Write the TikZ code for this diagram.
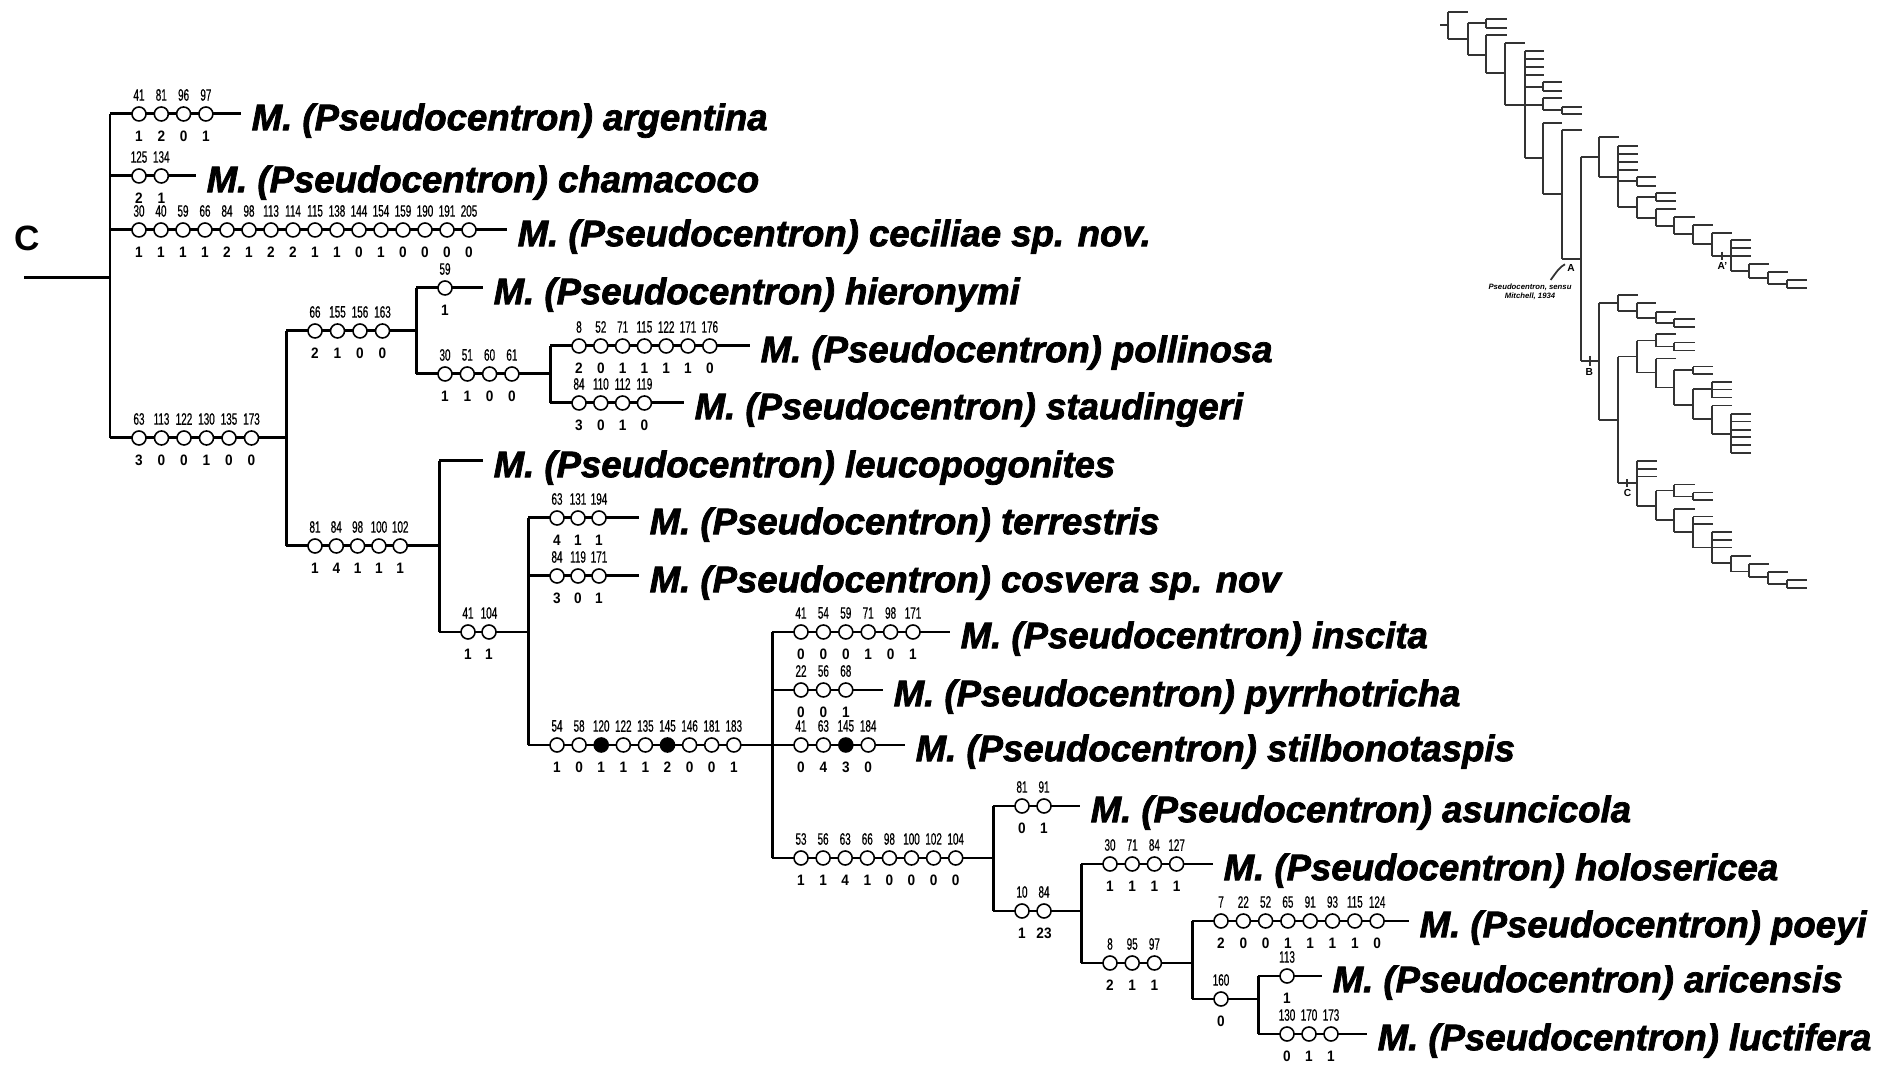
\documentclass[tikz,border=0pt]{standalone}
\usepackage{fontspec}
\setmainfont{Liberation Sans}
\newfontfamily\taxonfont[FakeStretch=0.99,FakeBold=2]{Liberation Sans}
\newfontfamily\charfont[FakeStretch=0.6,FakeBold=0.5]{Liberation Sans}
\newfontfamily\statefont[FakeStretch=0.9]{Liberation Sans}
\usetikzlibrary{calc}

\tikzset{
  branch/.style={line width=0.85pt},
  ring/.style={circle, draw, line width=0.45pt, fill=white, minimum size=0.14cm, inner sep=0pt},
  blob/.style={ring, fill=black},
  charno/.style={font=\charfont\fontsize{4.7}{5.5}\selectfont, inner sep=0pt},
  stateno/.style={font=\statefont\bfseries\fontsize{4.3}{5}\selectfont, inner sep=0pt},
  taxon/.style={font=\taxonfont\bfseries\itshape\fontsize{10.5}{12}\selectfont, anchor=base west, inner sep=0pt, xshift=0.1cm, yshift=-4.6pt},
  minitree/.style={line width=0.5pt, black!80},
}

\begin{document}
\begin{tikzpicture}[x=0.01cm, y=-0.01cm]
  \useasboundingbox (0,0) rectangle (1892,1065);
  \fill[white] (0,0) rectangle (1892,1065);

  % one branch with its character changes
  \newcommand\charbranch[6]{%
    \coordinate (#1-s) at (#2,#3);
    \coordinate (#1-e) at (#6,#3);
    \draw[branch] (#1-s) -- (#1-e);
    \foreach \ctop/\cbot/\ckind [count=\i] in {#5}{
      \node[\ckind] (#1-\i) at ($(#1-s)+({29+(\i-1)*#4},0)$) {};
      \node[charno] at ($(#1-\i)+(0,-19)$) {\ctop};
      \node[stateno] at ($(#1-\i)+(0,22)$) {\cbot};
    }%
  }

  % root
  \node[font=\bfseries\fontsize{10}{12}\selectfont] (cladeC) at (27,238) {C};
  \coordinate (root) at (24,278);
  \coordinate (rootv) at (110,278);
  \draw[branch] (root) -- (rootv);

  \charbranch{arg}{110}{114}{22.3}{41/1/ring, 81/2/ring, 96/0/ring, 97/1/ring}{241}
  \node[taxon] (argentina) at (arg-e) {M. (Pseudocentron) argentina};
  \charbranch{cham}{110}{176}{22.3}{125/2/ring, 134/1/ring}{196}
  \node[taxon] (chamacoco) at (cham-e) {M. (Pseudocentron) chamacoco};
  \charbranch{cec}{110}{230}{22}{30/1/ring, 40/1/ring, 59/1/ring, 66/1/ring, 84/2/ring, 98/1/ring, 113/2/ring, 114/2/ring, 115/1/ring, 138/1/ring, 144/0/ring, 154/1/ring, 159/0/ring, 190/0/ring, 191/0/ring, 205/0/ring}{507}
  \node[taxon] (ceciliae) at (cec-e) {M. (Pseudocentron) ceciliae sp. nov.};
  \charbranch{cA}{110}{438}{22.5}{63/3/ring, 113/0/ring, 122/0/ring, 130/1/ring, 135/0/ring, 173/0/ring}{286}
  \draw[branch] (arg-s) -- (cA-s);

  % hieronymi group
  \charbranch{cB}{286}{331}{22.5}{66/2/ring, 155/1/ring, 156/0/ring, 163/0/ring}{416}
  \charbranch{hie}{416}{288}{22}{59/1/ring}{483}
  \node[taxon] (hieronymi) at (hie-e) {M. (Pseudocentron) hieronymi};
  \charbranch{cC}{416}{374}{22.3}{30/1/ring, 51/1/ring, 60/0/ring, 61/0/ring}{550}
  \draw[branch] (hie-s) -- (cC-s);
  \charbranch{pol}{550}{346}{21.8}{8/2/ring, 52/0/ring, 71/1/ring, 115/1/ring, 122/1/ring, 171/1/ring, 176/0/ring}{750}
  \node[taxon] (pollinosa) at (pol-e) {M. (Pseudocentron) pollinosa};
  \charbranch{sta}{550}{403}{21.8}{84/3/ring, 110/0/ring, 112/1/ring, 119/0/ring}{684}
  \node[taxon] (staudingeri) at (sta-e) {M. (Pseudocentron) staudingeri};
  \draw[branch] (pol-s) -- (sta-s);

  % rest of the clade
  \charbranch{cD}{286}{546}{21.3}{81/1/ring, 84/4/ring, 98/1/ring, 100/1/ring, 102/1/ring}{439}
  \draw[branch] (cB-s) -- (cD-s);
  \coordinate (leu-s) at (439,461);
  \coordinate (leu-e) at (483,461);
  \draw[branch] (leu-s) -- (leu-e);
  \node[taxon] (leucopogonites) at (leu-e) {M. (Pseudocentron) leucopogonites};
  \charbranch{cE}{439}{632}{21}{41/1/ring, 104/1/ring}{528}
  \draw[branch] (leu-s) -- (cE-s);
  \charbranch{ter}{528}{518}{21}{63/4/ring, 131/1/ring, 194/1/ring}{639}
  \node[taxon] (terrestris) at (ter-e) {M. (Pseudocentron) terrestris};
  \charbranch{cos}{528}{576}{21}{84/3/ring, 119/0/ring, 171/1/ring}{639}
  \node[taxon] (cosvera) at (cos-e) {M. (Pseudocentron) cosvera sp. nov};
  \charbranch{cF}{528}{745}{22.1}{54/1/ring, 58/0/ring, 120/1/blob, 122/1/ring, 135/1/ring, 145/2/blob, 146/0/ring, 181/0/ring, 183/1/ring}{772}
  \draw[branch] (ter-s) -- (cF-s);

  \charbranch{ins}{772}{632}{22.4}{41/0/ring, 54/0/ring, 59/0/ring, 71/1/ring, 98/0/ring, 171/1/ring}{950}
  \node[taxon] (inscita) at (ins-e) {M. (Pseudocentron) inscita};
  \charbranch{pyr}{772}{690}{22.4}{22/0/ring, 56/0/ring, 68/1/ring}{883}
  \node[taxon] (pyrrhotricha) at (pyr-e) {M. (Pseudocentron) pyrrhotricha};
  \charbranch{sti}{772}{745}{22.4}{41/0/ring, 63/4/ring, 145/3/blob, 184/0/ring}{905}
  \node[taxon] (stilbonotaspis) at (sti-e) {M. (Pseudocentron) stilbonotaspis};
  \charbranch{cG}{772}{858}{22.1}{53/1/ring, 56/1/ring, 63/4/ring, 66/1/ring, 98/0/ring, 100/0/ring, 102/0/ring, 104/0/ring}{993}
  \draw[branch] (ins-s) -- (cG-s);

  \charbranch{asu}{993}{806}{22}{81/0/ring, 91/1/ring}{1080}
  \node[taxon] (asuncicola) at (asu-e) {M. (Pseudocentron) asuncicola};
  \charbranch{cH}{993}{911}{22}{10/1/ring, 84/23/ring}{1081}
  \draw[branch] (asu-s) -- (cH-s);
  \charbranch{hol}{1081}{864}{22.2}{30/1/ring, 71/1/ring, 84/1/ring, 127/1/ring}{1213}
  \node[taxon] (holosericea) at (hol-e) {M. (Pseudocentron) holosericea};
  \charbranch{cI}{1081}{963}{22.2}{8/2/ring, 95/1/ring, 97/1/ring}{1192}
  \draw[branch] (hol-s) -- (cI-s);
  \charbranch{poe}{1192}{921}{22.3}{7/2/ring, 22/0/ring, 52/0/ring, 65/1/ring, 91/1/ring, 93/1/ring, 115/1/ring, 124/0/ring}{1409}
  \node[taxon] (poeyi) at (poe-e) {M. (Pseudocentron) poeyi};
  \charbranch{cJ}{1192}{999}{22}{160/0/ring}{1258}
  \draw[branch] (poe-s) -- (cJ-s);
  \charbranch{ari}{1258}{976}{22}{113/1/ring}{1322}
  \node[taxon] (aricensis) at (ari-e) {M. (Pseudocentron) aricensis};
  \charbranch{luc}{1258}{1034}{22}{130/0/ring, 170/1/ring, 173/1/ring}{1367}
  \node[taxon] (luctifera) at (luc-e) {M. (Pseudocentron) luctifera};
  \draw[branch] (ari-s) -- (luc-s);

  % overview tree, top right
  \begin{scope}[shift={(1400,0)}, scale=0.3333, minitree]
    \foreach \xa/\xb/\yy in {120/145/75, 145/203/35, 145/203/117, 203/258/70, 258/320/57, 258/320/83,
      203/258/165, 258/320/105, 258/315/220, 315/375/128, 315/375/315, 375/432/152, 375/432/177,
      375/432/202, 375/432/225, 375/428/260, 428/487/247, 428/487/272, 375/428/315, 428/487/295,
      428/485/330, 485/545/320, 485/545/343, 375/428/475, 428/487/368, 428/485/583, 485/545/390,
      485/542/778, 542/598/470, 598/657/412, 598/655/530, 655/713/437, 655/713/462, 655/713/485,
      655/713/510, 655/710/543, 710/768/532, 710/768/557, 655/710/620, 710/768/590, 768/828/578,
      768/828/603, 710/768/653, 768/828/627, 768/822/678, 822/885/650, 822/880/703, 880/938/675,
      880/935/733, 935/995/698, 935/992/767, 992/1052/720, 992/1052/745, 992/1052/768, 992/1048/813,
      1048/1108/793, 1048/1105/835, 1105/1165/817, 1105/1162/852, 1162/1220/840, 1162/1220/865,
      542/598/1083, 598/655/908, 655/713/885, 655/710/932, 710/768/910, 710/768/953, 768/828/936,
      768/822/968, 822/885/958, 822/885/982, 598/655/1260, 655/710/1070, 710/768/1022, 768/828/1003,
      768/822/1040, 822/885/1028, 822/885/1052, 710/768/1118, 768/828/1076, 768/822/1163,
      822/880/1110, 880/938/1100, 880/938/1123, 822/880/1215, 880/935/1168, 935/995/1146,
      935/995/1169, 935/995/1193, 880/935/1258, 935/995/1217, 935/992/1302, 992/1052/1242,
      992/1052/1265, 992/1052/1290, 992/1052/1312, 992/1052/1336, 992/1052/1360, 655/710/1450,
      710/770/1383, 710/770/1407, 710/770/1430, 710/768/1518, 768/822/1472, 822/885/1454,
      822/880/1490, 880/938/1478, 880/938/1500, 768/822/1560, 822/885/1527, 822/880/1597,
      880/938/1550, 880/938/1573, 880/935/1643, 935/995/1597, 935/995/1620, 935/995/1643,
      935/992/1690, 992/1052/1668, 992/1048/1715, 1048/1108/1693, 1048/1105/1732, 1105/1165/1717,
      1105/1162/1752, 1162/1220/1740, 1162/1220/1765}
      \draw (\xa,\yy) -- (\xb,\yy);
    \foreach \xx/\ya/\yb in {145/35/117, 203/70/165, 258/57/83, 258/105/220, 315/128/315, 375/152/475,
      428/247/272, 428/295/330, 485/320/343, 428/368/583, 485/390/778, 542/470/1083, 598/412/530,
      655/437/620, 710/532/557, 710/590/653, 768/578/603, 768/627/678, 822/650/703, 880/675/733,
      935/698/767, 992/720/813, 1048/793/835, 1105/817/852, 1162/840/865,
      598/908/1260, 655/885/932, 710/910/953, 768/936/968, 822/958/982, 655/1070/1450,
      710/1022/1118, 768/1003/1040, 822/1028/1052, 768/1076/1163, 822/1110/1215, 880/1100/1123,
      880/1168/1258, 935/1146/1193, 935/1217/1302, 992/1242/1360, 710/1383/1518, 768/1472/1560,
      822/1454/1490, 880/1478/1500, 822/1527/1597, 880/1550/1643, 935/1597/1690, 992/1668/1715,
      1048/1693/1732, 1105/1717/1752, 1162/1740/1765}
      \draw (\xx,\ya) -- (\xx,\yb);
    % clade marks
    \draw (965,755) -- (965,780);
    \draw (570,1068) -- (570,1098);
    \draw (682,1438) -- (682,1462);
    \draw (452,840) .. controls (470,815) and (480,800) .. (495,793);
    \node[black, font=\bfseries\fontsize{2.9}{3}\selectfont] (markA) at (513,805) {A};
    \node[black, font=\bfseries\fontsize{2.9}{3}\selectfont] (markAp) at (967,797) {A'};
    \node[black, font=\bfseries\fontsize{2.9}{3}\selectfont] (markB) at (568,1115) {B};
    \node[black, font=\bfseries\fontsize{2.9}{3}\selectfont] (markC) at (683,1480) {C};
    \node[black, font=\bfseries\itshape\fontsize{2.2}{2.6}\selectfont, align=center] (sensu) at (390,875) {Pseudocentron, sensu\\Mitchell, 1934};
  \end{scope}
\end{tikzpicture}
\end{document}
